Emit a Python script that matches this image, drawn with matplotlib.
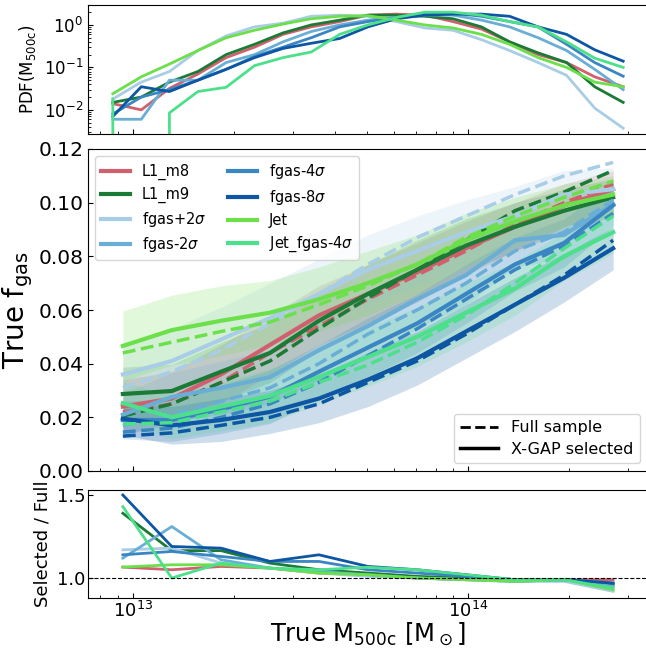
import numpy as np
import matplotlib
matplotlib.use("Agg")
import matplotlib.pyplot as plt
from matplotlib.lines import Line2D

# nombres de las simulaciones y colores
names = ["L1_m8", "L1_m9", r"fgas+2$\sigma$", r"fgas-2$\sigma$",
         r"fgas-4$\sigma$", r"fgas-8$\sigma$", "Jet", r"Jet_fgas-4$\sigma$"]
colors = ["#d0606e", "#1b7a36", "#a9cde6", "#6aaed6",
          "#3a86c2", "#0d56a3", "#6be04a", "#4de08a"]

# centros de bin (log10 M500c)
logm_pdf = [12.940, 13.025, 13.109, 13.194, 13.278, 13.363, 13.448, 13.532, 13.617, 13.701,
            13.786, 13.871, 13.955, 14.040, 14.124, 14.209, 14.294, 14.378, 14.463]
logm_fgas = [12.970, 13.116, 13.263, 13.409, 13.555, 13.701, 13.848, 13.994, 14.140, 14.287, 14.433]

# PDF(M500c)
pdf_m8 = [0.014, 0.010, 0.032, 0.07, 0.17, 0.30, 0.60, 0.90, 1.20, 1.70, 1.80, 1.70, 1.20, 0.80, 0.40, 0.20, 0.13, 0.06, 0.035]
pdf_m9 = [0.015, 0.020, 0.045, 0.08, 0.20, 0.35, 0.65, 1.00, 1.30, 1.70, 1.70, 1.60, 1.40, 0.90, 0.40, 0.22, 0.13, 0.035, 0.015]
pdf_p2 = [0.018, 0.045, 0.080, 0.25, 0.55, 0.90, 1.10, 1.60, 1.70, 1.60, 1.20, 0.85, 0.75, 0.45, 0.25, 0.13, 0.065, 0.011, 0.0037]
pdf_m2 = [0.006, 0.006, 0.050, 0.05, 0.13, 0.20, 0.40, 0.70, 1.00, 1.30, 1.50, 1.70, 1.70, 1.30, 0.90, 0.50, 0.25, 0.09, 0.030]
pdf_m4 = [0.008, 0.020, 0.030, 0.05, 0.09, 0.18, 0.30, 0.50, 0.90, 1.20, 1.50, 1.80, 1.90, 1.60, 1.20, 0.90, 0.35, 0.13, 0.062]
pdf_m8s = [0.007, 0.035, 0.027, 0.05, 0.09, 0.17, 0.28, 0.37, 0.48, 0.90, 1.40, 1.70, 1.80, 1.80, 1.60, 0.90, 0.60, 0.26, 0.14]
pdf_jet = [0.024, 0.060, 0.120, 0.25, 0.50, 0.75, 1.05, 1.40, 1.60, 1.65, 1.30, 1.00, 0.85, 0.60, 0.35, 0.17, 0.10, 0.045, 0.035]
pdf_jet4 = [0.018, 0.0, 0.0085, 0.027, 0.034, 0.11, 0.17, 0.23, 0.60, 1.00, 1.50, 2.00, 2.00, 1.70, 1.20, 0.90, 0.40, 0.165, 0.10]

# fgas, muestra seleccionada (X-GAP)
sel_m8 = [0.024, 0.027, 0.036, 0.047, 0.058, 0.066, 0.074, 0.083, 0.091, 0.099, 0.105]
sel_m9 = [0.0287, 0.0298, 0.037, 0.044, 0.056, 0.066, 0.075, 0.084, 0.091, 0.097, 0.102]
sel_p2 = [0.036, 0.041, 0.049, 0.057, 0.066, 0.075, 0.082, 0.089, 0.095, 0.103, 0.105]
sel_m2 = [0.021, 0.0276, 0.031, 0.035, 0.045, 0.054, 0.064, 0.073, 0.086, 0.088, 0.0995]
sel_m4 = [0.019, 0.019, 0.023, 0.0277, 0.037, 0.046, 0.055, 0.066, 0.077, 0.085, 0.099]
sel_m8s = [0.0195, 0.017, 0.019, 0.022, 0.027, 0.034, 0.042, 0.052, 0.062, 0.072, 0.083]
sel_jet = [0.0466, 0.0525, 0.056, 0.059, 0.064, 0.070, 0.077, 0.086, 0.093, 0.099, 0.103]
sel_jet4 = [0.0253, 0.020, 0.024, 0.028, 0.035, 0.0425, 0.050, 0.059, 0.068, 0.080, 0.089]

# fgas, muestra completa
full_m8 = [0.022, 0.025, 0.033, 0.044, 0.054, 0.064, 0.073, 0.082, 0.092, 0.100, 0.107]
full_m9 = [0.0205, 0.025, 0.033, 0.041, 0.053, 0.0645, 0.075, 0.086, 0.097, 0.104, 0.112]
full_p2 = [0.031, 0.037, 0.045, 0.055, 0.066, 0.077, 0.087, 0.095, 0.103, 0.110, 0.115]
full_m2 = [0.017, 0.021, 0.026, 0.031, 0.040, 0.051, 0.060, 0.070, 0.082, 0.089, 0.101]
full_m4 = [0.0145, 0.016, 0.020, 0.025, 0.033, 0.043, 0.053, 0.064, 0.075, 0.084, 0.096]
full_m8s = [0.013, 0.0142, 0.017, 0.020, 0.025, 0.033, 0.041, 0.051, 0.062, 0.073, 0.086]
full_jet = [0.044, 0.048, 0.052, 0.0555, 0.062, 0.069, 0.077, 0.087, 0.095, 0.102, 0.108]
full_jet4 = [0.0175, 0.018, 0.022, 0.026, 0.033, 0.0395, 0.048, 0.058, 0.070, 0.083, 0.095]

# dispersion (1 sigma) de la muestra seleccionada
sig_m8 = [0.010, 0.010, 0.011, 0.011, 0.011, 0.011, 0.011, 0.010, 0.009, 0.008, 0.007]
sig_m9 = [0.010, 0.010, 0.011, 0.011, 0.011, 0.011, 0.011, 0.010, 0.009, 0.008, 0.007]
sig_p2 = [0.011, 0.012, 0.012, 0.013, 0.013, 0.013, 0.013, 0.012, 0.011, 0.009, 0.008]
sig_m2 = [0.008, 0.009, 0.010, 0.010, 0.011, 0.011, 0.011, 0.011, 0.010, 0.009, 0.008]
sig_m4 = [0.007, 0.008, 0.009, 0.010, 0.010, 0.011, 0.011, 0.011, 0.010, 0.009, 0.008]
sig_m8s = [0.006, 0.007, 0.008, 0.008, 0.009, 0.010, 0.010, 0.010, 0.010, 0.009, 0.008]
sig_jet = [0.013, 0.013, 0.013, 0.012, 0.012, 0.012, 0.011, 0.010, 0.009, 0.008, 0.007]
sig_jet4 = [0.008, 0.008, 0.009, 0.010, 0.010, 0.011, 0.011, 0.011, 0.010, 0.009, 0.008]

# cociente seleccionada / completa
rat_m8 = [1.066, 1.05, 1.07, 1.06, 1.03, 1.02, 1.00, 0.99, 0.99, 0.99, 0.99]
rat_m9 = [1.39, 1.165, 1.165, 1.09, 1.05, 1.03, 1.01, 1.00, 0.98, 0.99, 0.96]
rat_p2 = [1.17, 1.18, 1.09, 1.06, 1.03, 1.01, 1.00, 0.99, 0.98, 0.98, 0.92]
rat_m2 = [1.12, 1.31, 1.11, 1.06, 1.04, 1.02, 1.00, 0.99, 0.98, 0.99, 0.95]
rat_m4 = [1.14, 1.16, 1.13, 1.10, 1.10, 1.05, 1.03, 1.01, 0.99, 0.99, 0.97]
rat_m8s = [1.50, 1.19, 1.18, 1.10, 1.14, 1.07, 1.05, 1.02, 0.99, 0.99, 0.97]
rat_jet = [1.066, 1.08, 1.08, 1.06, 1.03, 1.02, 1.00, 0.99, 0.98, 0.99, 0.93]
rat_jet4 = [1.43, 1.00, 1.09, 1.06, 1.05, 1.065, 1.05, 1.02, 0.99, 0.99, 0.94]

pdfs = [pdf_m8, pdf_m9, pdf_p2, pdf_m2, pdf_m4, pdf_m8s, pdf_jet, pdf_jet4]
sels = [sel_m8, sel_m9, sel_p2, sel_m2, sel_m4, sel_m8s, sel_jet, sel_jet4]
fulls = [full_m8, full_m9, full_p2, full_m2, full_m4, full_m8s, full_jet, full_jet4]
sigs = [sig_m8, sig_m9, sig_p2, sig_m2, sig_m4, sig_m8s, sig_jet, sig_jet4]
rats = [rat_m8, rat_m9, rat_p2, rat_m2, rat_m4, rat_m8s, rat_jet, rat_jet4]

m_pdf = 10 ** np.array(logm_pdf)
m_fgas = 10 ** np.array(logm_fgas)

fig = plt.figure(figsize=(6.46, 6.5), dpi=100)
W, H = 646.0, 650.0
left = 88 / W
width = (648 - 88) / W
ax_pdf = fig.add_axes([left, (H - 134) / H, width, 129 / H])
ax_f = fig.add_axes([left, (H - 471) / H, width, 322 / H])
ax_r = fig.add_axes([left, (H - 598) / H, width, 108 / H])

xlim = (10 ** 12.866, 10 ** 14.537)

# panel superior: PDF
for y, c in zip(pdfs, colors):
    ax_pdf.plot(m_pdf, y, color=c, lw=2)
ax_pdf.set_xscale("log")
ax_pdf.set_yscale("log")
ax_pdf.set_xlim(xlim)
ax_pdf.set_ylim(0.0027, 2.95)
ax_pdf.set_ylabel(r"PDF(M$_{\rm 500c}$)", fontsize=12)
ax_pdf.tick_params(which="both", direction="in", labelsize=12)
ax_pdf.tick_params(axis="x", labelbottom=False)

# panel central: fgas
for s, f, e, c in zip(sels, fulls, sigs, colors):
    s = np.array(s)
    e = np.array(e)
    ax_f.fill_between(m_fgas, s - e, s + e, color=c, alpha=0.2, lw=0)
for s, f, c, n in zip(sels, fulls, colors, names):
    ax_f.plot(m_fgas, f, color=c, lw=2.5, ls="--")
    ax_f.plot(m_fgas, s, color=c, lw=3, label=n)
ax_f.set_xscale("log")
ax_f.set_xlim(xlim)
ax_f.set_ylim(0, 0.12)
ax_f.set_yticks([0, 0.02, 0.04, 0.06, 0.08, 0.10, 0.12])
ax_f.set_yticklabels(["0.00", "0.02", "0.04", "0.06", "0.08", "0.10", "0.12"])
ax_f.set_ylabel(r"True f$_{\rm gas}$", fontsize=20, labelpad=2)
ax_f.tick_params(which="both", direction="in", labelsize=14.5)
ax_f.tick_params(axis="x", labelbottom=False)

leg1 = ax_f.legend(loc="upper left", ncol=2, fontsize=10.5, handlelength=2.0,
                   columnspacing=1.5, labelspacing=0.45, framealpha=0.8)
ax_f.add_artist(leg1)
style_handles = [Line2D([], [], color="black", ls="--", lw=2),
                 Line2D([], [], color="black", ls="-", lw=2.5)]
ax_f.legend(style_handles, ["Full sample", "X-GAP selected"], loc="lower right",
            fontsize=11.5, handlelength=2.4, labelspacing=0.4, framealpha=0.8)

# panel inferior: cociente
for r, c in zip(rats, colors):
    ax_r.plot(m_fgas, r, color=c, lw=2)
ax_r.axhline(1.0, color="black", ls="--", lw=0.8)
ax_r.set_xscale("log")
ax_r.set_xlim(xlim)
ax_r.set_ylim(0.88, 1.53)
ax_r.set_yticks([1.0, 1.5])
ax_r.set_ylabel("Selected / Full", fontsize=13)
ax_r.set_xlabel(r"True M$_{\rm 500c}$ [M$_\odot$]", fontsize=17.5, labelpad=0)
ax_r.tick_params(which="both", direction="in", labelsize=13, pad=2)

fig.savefig("out.png", dpi=100)
